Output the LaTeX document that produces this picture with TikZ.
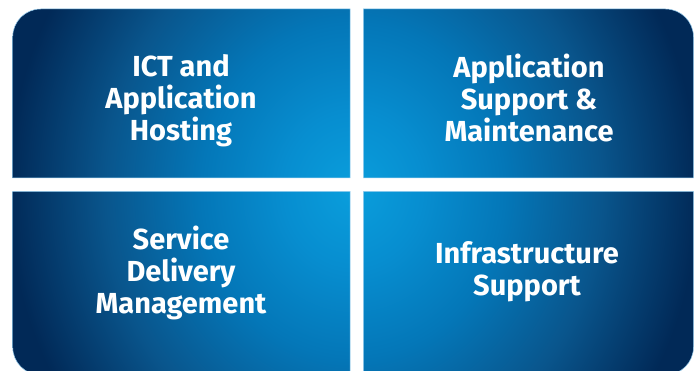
\documentclass[tikz,border=0pt]{standalone}
\usepackage{fontspec}
\setmainfont{Fira Sans}
\definecolor{cA}{HTML}{0A9EDC}
\definecolor{cB}{HTML}{078ED0}
\definecolor{cC}{HTML}{0477B8}
\definecolor{cD}{HTML}{09558C}
\definecolor{cE}{HTML}{012957}
\definecolor{edgeblue}{HTML}{9ACFEF}
\pgfdeclareradialshading{panelglow}{\pgfpoint{0bp}{0bp}}{color(0bp)=(cA); color(5bp)=(cB); color(11bp)=(cC); color(18bp)=(cD); color(25bp)=(cE); color(50bp)=(cE)}
\newcommand\pathTL{(350,193) -- (12.7,193) -- (12.7,334) arc[start angle=180,end angle=90,radius=28] -- (350,362) -- cycle}
\newcommand\pathTR{(363.3,193) -- (363.3,362) -- (665.5,362) arc[start angle=90,end angle=0,radius=28] -- (693.5,193) -- cycle}
\newcommand\pathBL{(350,179.7) -- (350,-4) -- (40.7,-4) arc[start angle=270,end angle=180,radius=28] -- (12.7,179.7) -- cycle}
\newcommand\pathBR{(363.3,179.7) -- (693.5,179.7) -- (693.5,24) arc[start angle=0,end angle=-90,radius=28] -- (363.3,-4) -- cycle}
\tikzset{
  paneltext/.style={text=white, align=center, inner sep=0pt,
    font=\bfseries\fontsize{29}{32}\selectfont},
  panelline/.style={draw=edgeblue, line width=0.5pt}
}
\begin{document}
\begin{tikzpicture}[x=1pt,y=1pt]
\useasboundingbox[fill=white] (0,0) rectangle (697,371);
\begin{scope}
  \clip \pathTL \pathTR \pathBL \pathBR;
  \shade[shading=panelglow] (8,-199) rectangle (698,561);
\end{scope}
\draw[panelline] \pathTL;
\draw[panelline] \pathTR;
\draw[panelline] \pathBL;
\draw[panelline] \pathBR;
\node[paneltext] (ict) at (181,270.5) {ICT and\\Application\\Hosting};
\node[paneltext] (asm) at (529,273) {Application\\Support \&\\Maintenance};
\node[paneltext] (sdm) at (181,98.5) {Service\\Delivery\\Management};
\node[paneltext] (inf) at (527,99) {Infrastructure\\Support};
\end{tikzpicture}
\end{document}
